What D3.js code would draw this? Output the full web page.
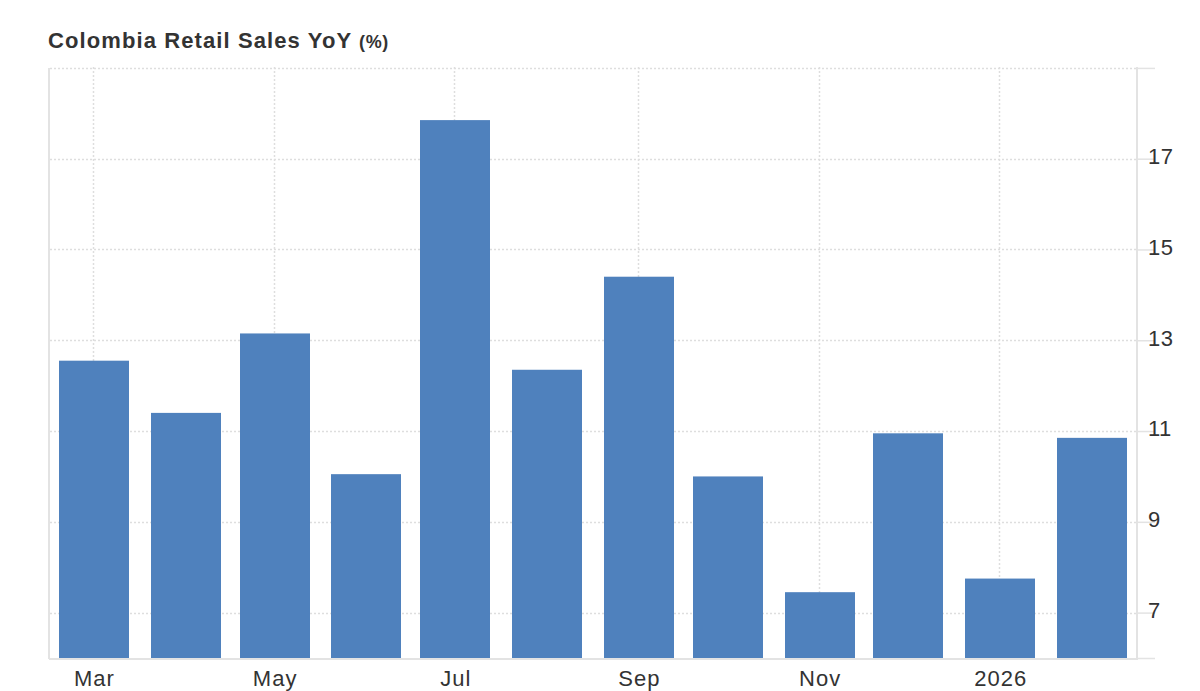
<!DOCTYPE html>
<html>
<head>
<meta charset="utf-8">
<script src="https://cdn.jsdelivr.net/npm/d3@7"></script>
<style>
  html, body { margin: 0; padding: 0; background: #fff; }
  svg { display: block; font-family: "Liberation Sans", Arial, sans-serif; }
</style>
</head>
<body>
<svg id="chart" width="1200" height="691"></svg>
<script>
const months = ["2025-03", "2025-04", "2025-05", "2025-06", "2025-07", "2025-08", "2025-09", "2025-10", "2025-11", "2025-12", "2026-01", "2026-02"];
const values = [12.55, 11.4, 13.15, 10.05, 17.85, 12.35, 14.4, 10.0, 7.45, 10.95, 7.75, 10.85];
const xTicks = ["2025-03", "2025-05", "2025-07", "2025-09", "2025-11", "2026-01"];
const xTickLabels = ["Mar", "May", "Jul", "Sep", "Nov", "2026"];
const yTicks = [7, 9, 11, 13, 15, 17, 19];
const yDomain = [6, 19.02];
const xDomain = ["2025-02-14T12:00", "2026-02-16T12:00"];

(function () {
const svg = d3.select("#chart");
const pl = 50, pr = 1137, pt = 67, pb = 658;
const parseM = d3.timeParse("%Y-%m");
const parseD = d3.timeParse("%Y-%m-%dT%H:%M");

const x = d3.scaleTime().domain(xDomain.map(parseD)).range([pl, pr]);
const y = d3.scaleLinear().domain(yDomain).range([pb, pt]);
const barW = 70;

// vertical grid lines
svg.append("g").selectAll("line")
  .data(xTicks.map(parseM))
  .join("line")
  .attr("x1", d => Math.round(x(d)) + 0.5).attr("x2", d => Math.round(x(d)) + 0.5)
  .attr("y1", pt).attr("y2", pb)
  .attr("stroke", "#dedede").attr("stroke-width", 1.5).attr("stroke-dasharray", "2,2");

// horizontal grid lines
svg.append("g").selectAll("line")
  .data(yTicks)
  .join("line")
  .attr("x1", pl).attr("x2", pr)
  .attr("y1", d => Math.round(y(d)) + 0.5).attr("y2", d => Math.round(y(d)) + 0.5)
  .attr("stroke", "#dedede").attr("stroke-width", 1.5).attr("stroke-dasharray", "2,2");

// bars
svg.append("g").selectAll("rect")
  .data(months.map((m, i) => ({ d: parseM(m), v: values[i] })))
  .join("rect")
  .attr("x", d => Math.round(x(d.d) + 1 - barW / 2))
  .attr("width", barW)
  .attr("y", d => y(d.v))
  .attr("height", d => y(yDomain[0]) - y(d.v))
  .attr("fill", "#4f81bd");

// left border
svg.append("line").attr("x1", 49).attr("x2", 49).attr("y1", pt + 1).attr("y2", pb + 1)
  .attr("stroke", "#e3e3e3").attr("stroke-width", 2);
// bottom axis line
svg.append("line").attr("x1", 49).attr("x2", pr - 1).attr("y1", pb + 1).attr("y2", pb + 1)
  .attr("stroke", "#e3e3e3").attr("stroke-width", 2);

// right axis
const yAxis = d3.axisRight(y).tickValues([6, ...yTicks]).tickSize(18)
  .tickFormat(d => (d === 6 || d === 19) ? "" : d);
const ya = svg.append("g").attr("transform", `translate(${pr},0)`).call(yAxis);
ya.select(".domain").remove();
ya.append("line").attr("x1", 0).attr("x2", 0).attr("y1", pt).attr("y2", pb + 2)
  .attr("stroke", "#e3e3e3").attr("stroke-width", 2);
ya.selectAll(".tick line").attr("stroke", "#e3e3e3").attr("stroke-width", 1.5);
ya.selectAll(".tick text").attr("fill", "#333").attr("font-size", 22)
  .attr("x", 11).attr("dy", "0.22em").attr("text-anchor", "start")
  .attr("letter-spacing", "0.5px")
  .style("font-family", "'Liberation Sans', Arial, sans-serif");

// bottom axis labels
const xAxis = d3.axisBottom(x).tickValues(xTicks.map(parseM))
  .tickFormat((d, i) => xTickLabels[i]).tickSize(0).tickPadding(12);
const xa = svg.append("g").attr("transform", `translate(1,${pb})`).call(xAxis);
xa.select(".domain").remove();
xa.selectAll(".tick text").attr("fill", "#333").attr("font-size", 22)
  .attr("letter-spacing", "1px")
  .style("font-family", "'Liberation Sans', Arial, sans-serif");

// title
const title = svg.append("text").attr("x", 48).attr("y", 48)
  .attr("fill", "#333").attr("font-weight", "bold");
title.append("tspan").attr("font-size", 22).attr("letter-spacing", "1.1px").text("Colombia Retail Sales YoY ");
title.append("tspan").attr("font-size", 18).attr("letter-spacing", "0.6px").text("(%)");
})();
</script>
</body>
</html>
